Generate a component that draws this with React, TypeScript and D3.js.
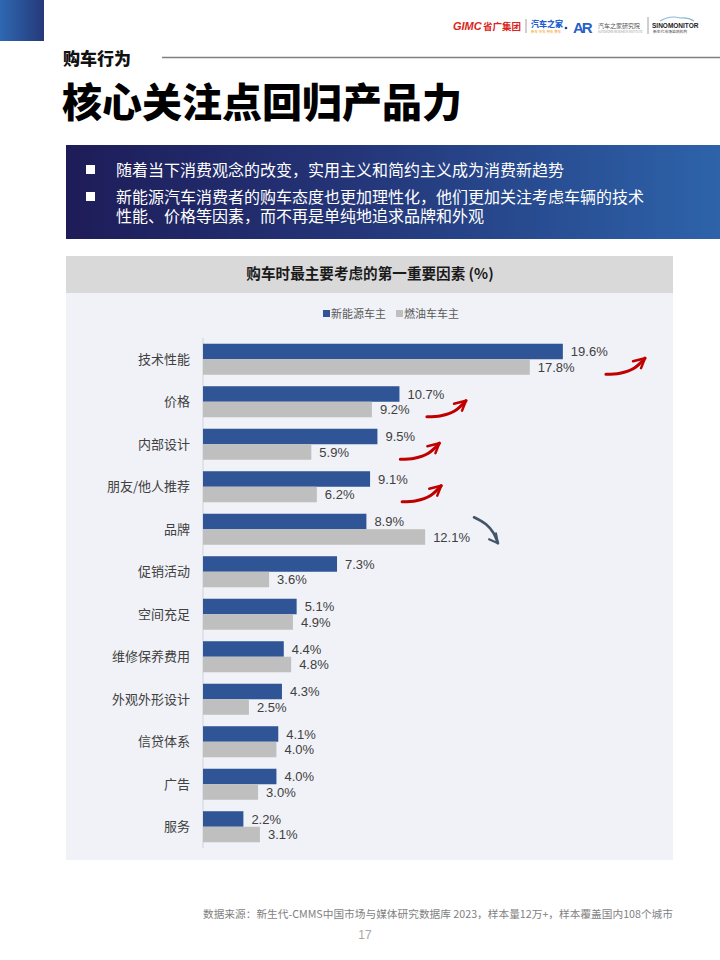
import React from "react";
import * as d3 from "d3";

const categories = ["技术性能", "价格", "内部设计", "朋友/他人推荐", "品牌", "促销活动", "空间充足", "维修保养费用", "外观外形设计", "信贷体系", "广告", "服务"];
const nevValues = [19.6, 10.7, 9.5, 9.1, 8.9, 7.3, 5.1, 4.4, 4.3, 4.1, 4.0, 2.2];
const iceValues = [17.8, 9.2, 5.9, 6.2, 12.1, 3.6, 4.9, 4.8, 2.5, 4.0, 3.0, 3.1];
const seriesNames = ["新能源车主", "燃油车车主"];
const bullets = [
  ["随着当下消费观念的改变，实用主义和简约主义成为消费新趋势"],
  ["新能源汽车消费者的购车态度也更加理性化，他们更加关注考虑车辆的技术", "性能、价格等因素，而不再是单纯地追求品牌和外观"],
];
// trend arrows: category, direction, tail position in % units on the x scale
const arrows = [
  { cat: "技术性能", dir: "up", at: 21.95 },
  { cat: "价格", dir: "up", at: 12.2 },
  { cat: "内部设计", dir: "up", at: 10.75 },
  { cat: "朋友/他人推荐", dir: "up", at: 10.85 },
  { cat: "品牌", dir: "down", at: 14.76 },
];

const CJK = "'Noto Sans CJK SC', 'Noto Sans', sans-serif";
const LAT = "'Liberation Sans', Arial, 'Noto Sans CJK SC', sans-serif";
const BLUE = "#2f5597";
const GRAY = "#bfbfbf";

export default function App() {
  const x = d3.scaleLinear().domain([0, 20]).range([203, 203 + 367.2]);
  const y = d3.scaleBand<string>().domain(categories).range([338, 848]).paddingInner(0.27).paddingOuter(0.135);
  const inner = d3.scaleBand<number>().domain([0, 1]).range([0, y.bandwidth()]);
  const bw = inner.bandwidth();

  const curve = d3.line<[number, number]>().curve(d3.curveCatmullRom.alpha(0.5));

  return (
    <svg width={720} height={960} style={{ position: "absolute", left: 0, top: 0, background: "#fff" }}>
      <defs>
        <linearGradient id="sq" x1="0" x2="1" y1="0" y2="0">
          <stop offset="0" stopColor="#2e68b2" />
          <stop offset="1" stopColor="#26397a" />
        </linearGradient>
        <linearGradient id="box" x1="0" x2="1" y1="0" y2="0">
          <stop offset="0" stopColor="#1e1c58" />
          <stop offset="0.45" stopColor="#243679" />
          <stop offset="1" stopColor="#2d63aa" />
        </linearGradient>
      </defs>
      <rect x={0} y={0} width={44} height={41} fill="url(#sq)" />

      {/* logos */}
      <g fontFamily={CJK}>
        <text x={453} y={30} fill="#d9261c" fontSize={11} fontWeight={900} fontStyle="italic" fontFamily={LAT}>GIMC</text>
        <text x={483} y={30} fill="#d9261c" fontSize={9.5} fontWeight={700}>省广集团</text>
        <line x1={526} x2={526} y1={19} y2={33} stroke="#888" strokeWidth={0.8} />
        <text x={531} y={27} fill="#1f5fd0" fontSize={8} fontWeight={800}>汽车之家</text>
        <text x={531} y={32.5} fill="#f0a020" fontSize={3.5}>新车 买车 用车 换车</text>
        <circle cx={566} cy={28} r={1.3} fill="#1f3f8f" />
        <text x={573} y={33} fill="#2a5fc8" fontSize={15} fontWeight={900} fontFamily={LAT} letterSpacing={-2}>AR</text>
        <text x={598} y={28} fill="#555" fontSize={6}>汽车之家研究院</text>
        <text x={598} y={32.5} fill="#999" fontSize={2.8}>AUTOHOME RESEARCH INSTITUTE</text>
        <line x1={648} x2={648} y1={17} y2={34} stroke="#888" strokeWidth={0.8} />
        <path d="M660 21 Q670 15 680 18 Q688 17 694 21" fill="none" stroke="#8fb8d8" strokeWidth={1.2} />
        <text x={652} y={28} fill="#222" fontSize={6.5} fontWeight={900} fontFamily={LAT}>SINOMONITOR</text>
        <text x={653} y={33} fill="#444" fontSize={3.8}>新生代市场监测机构</text>
      </g>

      {/* section header */}
      <text x={63} y={65} fontFamily={CJK} fontWeight={900} fontSize={17} fill="#111">购车行为</text>
      <line x1={162} x2={720} y1={57.5} y2={57.5} stroke="#7f7f7f" strokeWidth={1.5} />
      <text x={62} y={117} fontFamily={CJK} fontWeight={900} fontSize={40} fill="#000">核心关注点回归产品力</text>

      {/* bullet box */}
      <rect x={66} y={145} width={654} height={94} fill="url(#box)" />
      {bullets.map((lines, i) => (
        <g key={i}>
          <rect x={86} y={165 + i * 27} width={9} height={9} fill="#fff" />
          <text x={116} y={176 + i * 27} fontFamily={CJK} fontSize={16} fill="#fff">
            {lines.map((l, j) => (
              <tspan key={j} x={116} dy={j === 0 ? 0 : 19}>{l}</tspan>
            ))}
          </text>
        </g>
      ))}

      {/* chart panel */}
      <rect x={66} y={256} width={607} height={37} fill="#d9d9d9" />
      <rect x={66} y={293} width={607} height={567} fill="#f0f2f7" />
      <text x={370} y={279} textAnchor="middle" fontFamily={CJK} fontWeight={700} fontSize={14.6} fill="#1a1a1a">购车时最主要考虑的第一重要因素 (%)</text>

      {/* legend */}
      <g fontFamily={CJK} fontSize={11} fill="#595959">
        <rect x={323} y={310} width={7} height={7} fill={BLUE} />
        <text x={331} y={318}>{seriesNames[0]}</text>
        <rect x={396} y={310} width={7} height={7} fill={GRAY} />
        <text x={404} y={318}>{seriesNames[1]}</text>
      </g>

      <line x1={x(0)} x2={x(0)} y1={338} y2={848} stroke="#d0d3da" strokeWidth={1} />

      {categories.map((c, i) => {
        const y0 = y(c)!;
        const vals = [nevValues[i], iceValues[i]];
        return (
          <g key={c}>
            <text x={190} y={y0 + y.bandwidth() / 2} dy="0.35em" textAnchor="end" fontFamily={CJK} fontSize={13} fill="#404040">{c}</text>
            {vals.map((v, k) => (
              <g key={k}>
                <rect x={x(0)} y={y0 + inner(k)!} width={x(v) - x(0)} height={bw} fill={k === 0 ? BLUE : GRAY} />
                <text x={x(v) + 8} y={y0 + inner(k)! + bw / 2} dy="0.36em" fontFamily={LAT} fontSize={13} fill="#404040">{v.toFixed(1)}%</text>
              </g>
            ))}
          </g>
        );
      })}

      {/* trend arrows */}
      {arrows.map((a) => {
        const cy = y(a.cat)! + y.bandwidth() / 2;
        const x0 = x(a.at);
        if (a.dir === "up") {
          const tip: [number, number] = [x0 + 39, cy - 1];
          const pts: [number, number][] = [[x0, cy + 15], [x0 + 14, cy + 14], [x0 + 28, cy + 9], tip];
          return (
            <g key={a.cat} stroke="#c00000" fill="none" strokeLinecap="round" strokeLinejoin="round">
              <path d={curve(pts)!} strokeWidth={3.2} />
              <path d={`M${tip[0] - 12},${tip[1] + 3} L${tip[0]},${tip[1]} L${tip[0] - 4},${tip[1] + 10}`} strokeWidth={2.4} />
            </g>
          );
        }
        const tip: [number, number] = [x0 + 24, cy + 14];
        const pts: [number, number][] = [[x0, cy - 12], [x0 + 12, cy - 5], [x0 + 19, cy + 3], tip];
        return (
          <g key={a.cat} stroke="#44546a" fill="none" strokeLinecap="round" strokeLinejoin="round">
            <path d={curve(pts)!} strokeWidth={2.6} />
            <path d={`M${tip[0] - 2},${tip[1] - 10} L${tip[0]},${tip[1]} L${tip[0] - 9},${tip[1] - 4}`} strokeWidth={2} />
          </g>
        );
      })}

      {/* footer */}
      <text x={673} y={918} textAnchor="end" fontFamily={CJK} fontSize={10.7} fill="#7f7f7f">数据来源：新生代-CMMS中国市场与媒体研究数据库 2023，样本量12万+，样本覆盖国内108个城市</text>
      <text x={365} y={939} textAnchor="middle" fontFamily={LAT} fontSize={12} fill="#a6a6a6">17</text>
    </svg>
  );
}
